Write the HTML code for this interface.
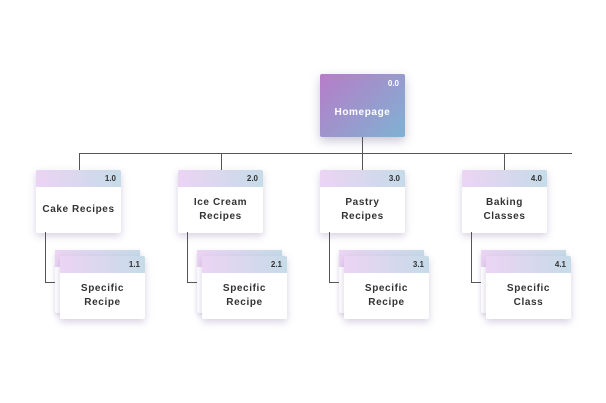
<!DOCTYPE html>
<html><head><style>
body{margin:0;width:606px;height:403px;background:#fff;position:relative;overflow:hidden;font-family:"Liberation Sans",sans-serif;}
.l{position:absolute;background:#555;}
.c{position:absolute;width:85px;height:63px;background:#fff;border-radius:2px;box-shadow:0 3px 8px rgba(120,100,160,.3);}
.c .h{height:17px;background:linear-gradient(90deg,#ecd4f4,#c6dbe8);border-radius:2px 2px 0 0;font-size:8px;font-weight:bold;color:#333;text-align:right;padding-right:5px;line-height:17px;box-sizing:border-box;}
.c .t{position:absolute;top:17px;left:0;right:0;bottom:0;display:flex;align-items:center;justify-content:center;text-align:center;font-size:10px;font-weight:bold;color:#333;letter-spacing:.6px;line-height:14px;}
.b{position:absolute;width:85px;height:63px;background:#fff;border-radius:2px;box-shadow:0 2px 5px rgba(120,100,160,.25);}
.b .h{height:17px;background:linear-gradient(90deg,#ecd4f4,#c6dbe8);}
.home{position:absolute;left:320px;top:74px;width:85px;height:63px;background:linear-gradient(135deg,#b77cc8,#7fb2d2);border-radius:2px;box-shadow:0 4px 10px rgba(100,90,140,.35);color:#fff;font-weight:bold;}
</style></head><body>
<div class="home"><div style="position:absolute;right:6px;top:5px;font-size:8px">0.0</div><div style="position:absolute;top:33px;width:100%;text-align:center;font-size:10px;letter-spacing:.6px">Homepage</div></div>
<div class="l" style="left:362px;top:137px;width:1px;height:16px"></div>
<div class="l" style="left:79px;top:153px;width:493px;height:1px"></div>
<div class="l" style="left:79px;top:153px;width:1px;height:17px"></div>
<div class="l" style="left:221px;top:153px;width:1px;height:17px"></div>
<div class="l" style="left:362px;top:153px;width:1px;height:17px"></div>
<div class="l" style="left:504px;top:153px;width:1px;height:17px"></div>

<div class="c" style="left:36px;top:170px"><div class="h">1.0</div><div class="t">Cake Recipes</div></div>
<div class="c" style="left:178px;top:170px"><div class="h">2.0</div><div class="t">Ice Cream<br>Recipes</div></div>
<div class="c" style="left:320px;top:170px"><div class="h">3.0</div><div class="t">Pastry<br>Recipes</div></div>
<div class="c" style="left:462px;top:170px"><div class="h">4.0</div><div class="t">Baking<br>Classes</div></div>

<div class="l" style="left:45px;top:232px;width:1px;height:50px"></div><div class="l" style="left:45px;top:282px;width:10px;height:1px"></div>
<div class="l" style="left:187px;top:232px;width:1px;height:50px"></div><div class="l" style="left:187px;top:282px;width:10px;height:1px"></div>
<div class="l" style="left:329px;top:232px;width:1px;height:50px"></div><div class="l" style="left:329px;top:282px;width:10px;height:1px"></div>
<div class="l" style="left:471px;top:232px;width:1px;height:50px"></div><div class="l" style="left:471px;top:282px;width:10px;height:1px"></div>

<div class="b" style="left:55px;top:250px"><div class="h"></div></div>
<div class="c" style="left:60px;top:256px"><div class="h">1.1</div><div class="t">Specific<br>Recipe</div></div>
<div class="b" style="left:197px;top:250px"><div class="h"></div></div>
<div class="c" style="left:202px;top:256px"><div class="h">2.1</div><div class="t">Specific<br>Recipe</div></div>
<div class="b" style="left:339px;top:250px"><div class="h"></div></div>
<div class="c" style="left:344px;top:256px"><div class="h">3.1</div><div class="t">Specific<br>Recipe</div></div>
<div class="b" style="left:481px;top:250px"><div class="h"></div></div>
<div class="c" style="left:486px;top:256px"><div class="h">4.1</div><div class="t">Specific<br>Class</div></div>
</body></html>
